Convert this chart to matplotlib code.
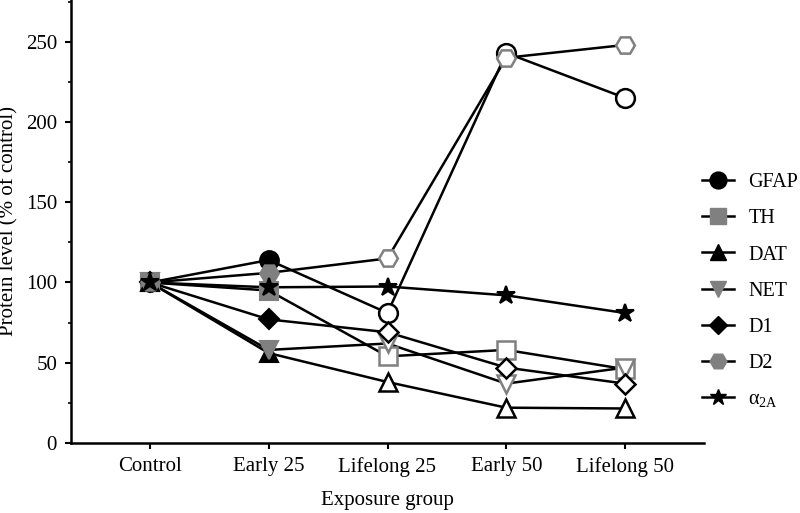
import matplotlib
matplotlib.use("Agg")
import matplotlib.pyplot as plt
from matplotlib.ticker import MultipleLocator
from matplotlib.lines import Line2D

plt.rcParams['font.family'] = ['Liberation Serif', 'DejaVu Serif']
plt.rcParams['mathtext.fontset'] = 'custom'
plt.rcParams['mathtext.rm'] = 'Liberation Serif'
plt.rcParams['mathtext.it'] = 'Liberation Serif:italic'

groups = ["Control", "Early 25", "Lifelong 25", "Early 50", "Lifelong 50"]
gfap = [100, 114, 81, 243, 215]
th = [100, 95, 54, 58, 46]
dat = [100, 56, 38, 22, 21.5]
net = [100, 58, 62, 37, 47]
d1 = [100, 77, 69, 47, 37]
d2 = [100, 106, 115, 240, 248]
a2a = [100, 97, 97.5, 92, 81]

labels = ["GFAP", "TH", "DAT", "NET", "D1", "D2", r"$\mathregular{\alpha_{2A}}$"]
series = [gfap, th, dat, net, d1, d2, a2a]
GRAY = "#808080"
styles = [
    ("o", "black", 13.5, True),
    ("s", GRAY, 12.5, True),
    ("^", "black", 13.5, True),
    ("v", GRAY, 13.5, True),
    ("D", "black", 10, True),
    ("H", GRAY, 13.5, True),
    ("*", "black", 13.5, False),
]

fig = plt.figure(figsize=(8, 5.13), dpi=100)
ax = fig.add_axes([71/800, 70/513, (704-71)/800, 443/513])

x = list(range(len(groups)))
handles = []
for vals, (m, c, ms, opens) in zip(series, styles):
    ax.plot(x, vals, color="black", lw=1.8, zorder=2)
    # filled points for Control and Early 25
    ax.plot(x[:2], vals[:2], ls="none", marker=m, ms=ms, mfc=c, mec=c, mew=1.5, zorder=3)
    if opens:
        ax.plot(x[2:], vals[2:], ls="none", marker=m, ms=ms, mfc="white", mec=c, mew=1.8, zorder=3)
    else:
        ax.plot(x[2:], vals[2:], ls="none", marker=m, ms=ms, mfc=c, mec=c, mew=1.5, zorder=3)
    handles.append(Line2D([], [], color="black", lw=1.8, marker=m, ms=ms*0.9, mfc=c, mec=c))

ax.set_xlim(-0.665, 4.665)
ax.set_ylim(0, 276)
ax.set_xticks(x)
ax.set_xticklabels(groups, fontsize=15)
ax.yaxis.set_major_locator(MultipleLocator(50))
ax.yaxis.set_minor_locator(MultipleLocator(25))
ax.tick_params(axis='both', which='major', length=4, width=1.5, labelsize=15, pad=6)
ax.tick_params(axis='y', which='minor', length=2.5, width=1.2)
for s in ["top", "right"]:
    ax.spines[s].set_visible(False)
for s in ["left", "bottom"]:
    ax.spines[s].set_linewidth(1.8)

ax.set_xlabel("Exposure group", fontsize=15, labelpad=10)
ax.set_ylabel("Protein level (% of control)", fontsize=15)
ax.yaxis.set_label_coords(-0.083, 0.5)

fig.legend(handles, labels, loc="upper left", bbox_to_anchor=(702/800, 1-173/513),
           frameon=False, fontsize=14.5, handlelength=1.6, handletextpad=0.7,
           labelspacing=0.85, borderpad=0, borderaxespad=0)

fig.savefig("out.png", dpi=100)
